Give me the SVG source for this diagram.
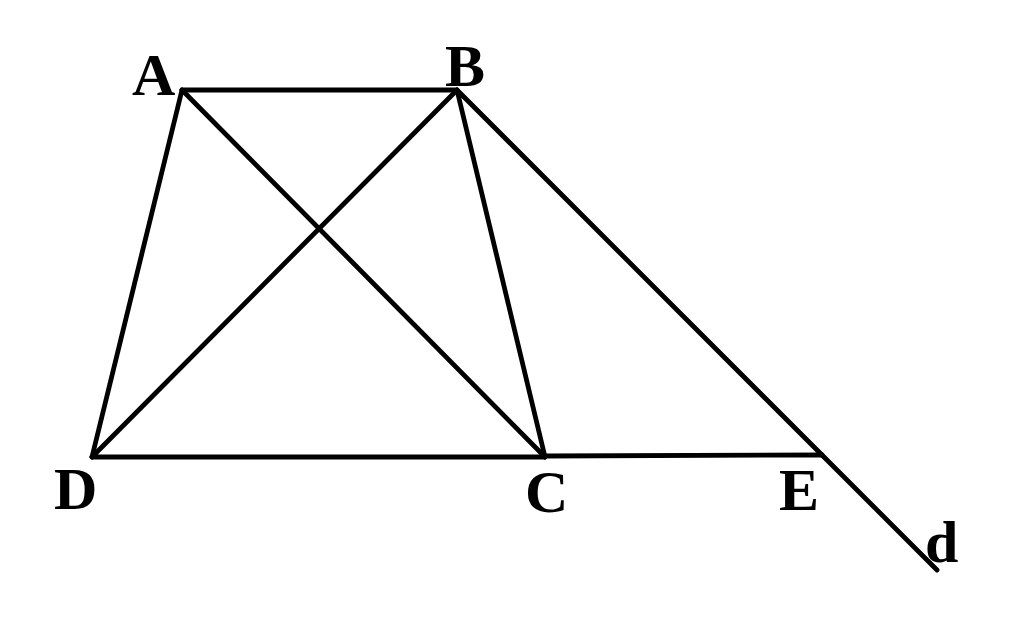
<svg xmlns="http://www.w3.org/2000/svg" width="1024" height="629" viewBox="0 0 1024 629">
<style>
.l{stroke:#000;stroke-width:4.8;stroke-linecap:round;fill:none}
.t{font-family:"Liberation Serif","Times New Roman",serif;font-weight:bold;font-size:60px;fill:#000}
</style>
<rect width="1024" height="629" fill="#fff"/>
<g id="connectors">
<line class="l" x1="182" y1="90" x2="457" y2="90"/>
<line class="l" x1="182" y1="90" x2="92" y2="457"/>
<line class="l" x1="182" y1="90" x2="545" y2="457"/>
<line class="l" x1="457" y1="90" x2="92" y2="457"/>
<line class="l" x1="457" y1="90" x2="545" y2="457"/>
<line class="l" x1="457" y1="90" x2="937" y2="570"/>
<line class="l" x1="92" y1="457" x2="545" y2="457"/>
<line class="l" x1="545" y1="456" x2="822" y2="455"/>
</g>
<g id="A"><text class="t" x="132" y="95">A</text></g>
<g id="B"><text class="t" x="445" y="86">B</text></g>
<g id="D"><text class="t" x="54" y="509">D</text></g>
<g id="C"><text class="t" x="525" y="512">C</text></g>
<g id="E"><text class="t" x="779" y="510">E</text></g>
<g id="d"><text class="t" x="925" y="562">d</text></g>
</svg>
